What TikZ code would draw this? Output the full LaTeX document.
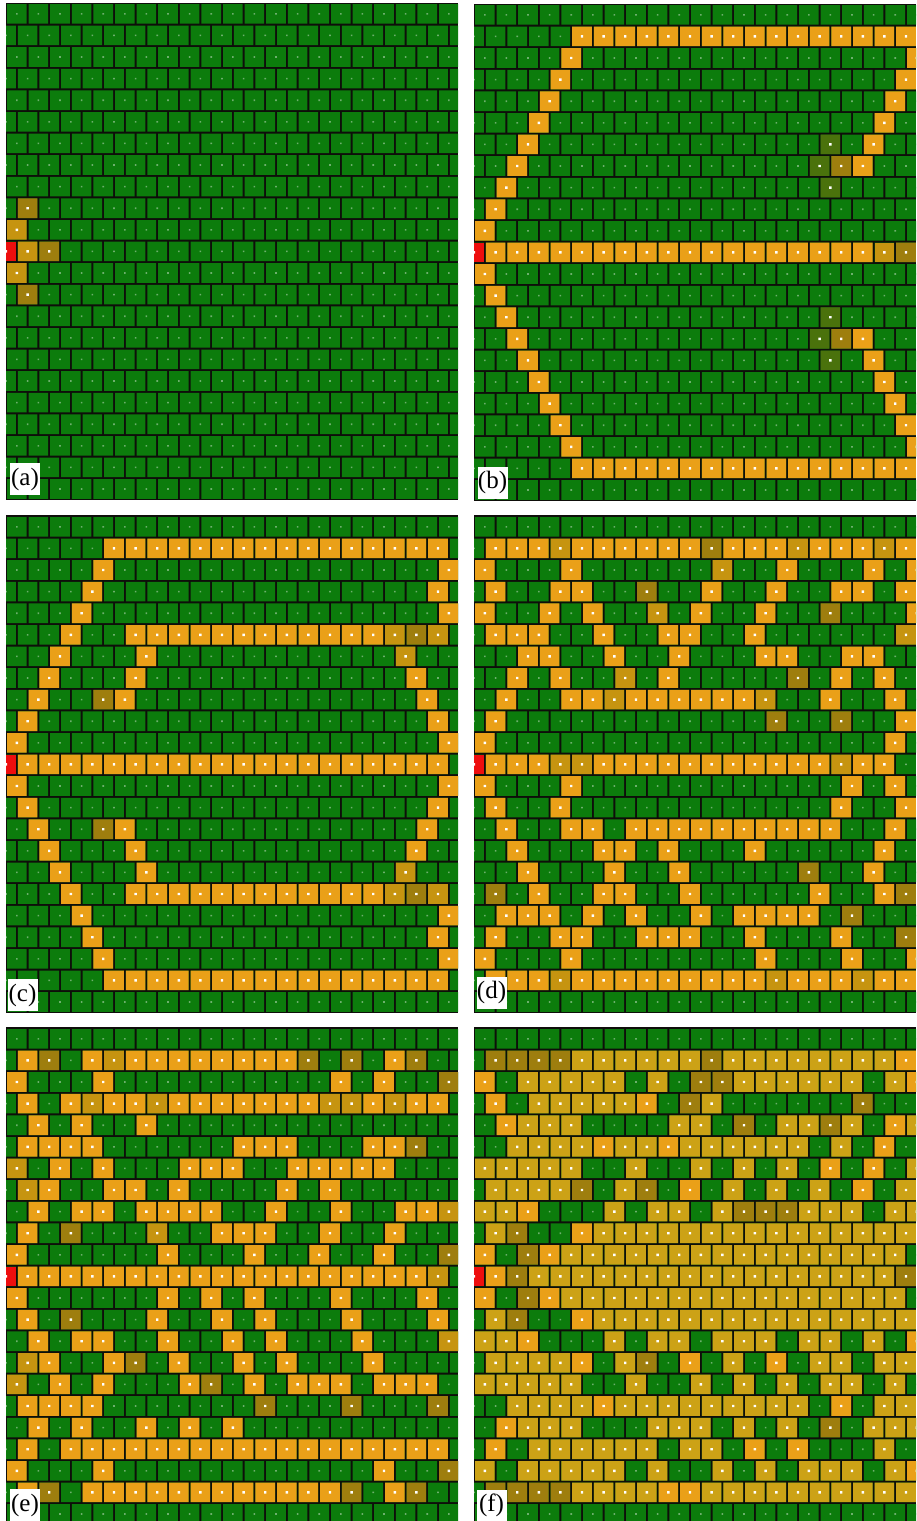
\documentclass[tikz,border=0pt]{standalone}
\usepackage{fontspec}
\setmainfont{Liberation Serif}
\definecolor{cG}{RGB}{12,124,12}
\definecolor{cO}{RGB}{234,160,24}
\definecolor{cY}{RGB}{198,148,16}
\definecolor{cD}{RGB}{158,126,14}
\definecolor{cH}{RGB}{74,114,12}
\definecolor{cK}{RGB}{204,162,22}
\definecolor{cR}{RGB}{238,14,14}
\definecolor{cB}{RGB}{14,14,10}
\tikzset{
  cellG/.style={fill=cG}, cellO/.style={fill=cO}, cellY/.style={fill=cY},
  cellD/.style={fill=cD}, cellH/.style={fill=cH}, cellK/.style={fill=cK},
  cellR/.style={fill=cR},
  gdot/.style={fill=cG!60!white},
  mdot/.style={fill=white},
  panelbg/.style={fill=cB},
  panellabel/.style={fill=white, inner sep=0pt, minimum width=30pt,
    minimum height=32pt, font=\fontsize{25}{25}\selectfont},
}
\ExplSyntaxOn
\int_new:N \l_rs_col_int
\clist_map_inline:nn {O,Y,D,H,K,R,dot} { \tl_new:c {l_rs_#1_tl} }
\cs_new_protected:Npn \rs_cell:nnnnn #1#2#3#4#5
 {
   \str_if_eq:nnF {#5}{G}
    {
      \pgfmathsetmacro\rsx{#1+(#4)*21.6-mod(#3,2)*10.8}
      \pgfmathsetmacro\rsy{#2+(#3)*21.6}
      \tl_put_right:cx {l_rs_#5_tl} { (\rsx,\rsy) ~ rectangle ~ ++(19.6,19.6) ~ }
      \tl_put_right:Nx \l_rs_dot_tl { (\rsx+8.6,\rsy+8.6) ~ rectangle ~ ++(2.4,2.4) ~ }
    }
 }
\NewDocumentCommand\cellrow{mmmm}
 {
   \int_zero:N \l_rs_col_int
   \tl_map_inline:nn {#4}
    {
      \rs_cell:nnnnn {#1}{#2}{#3}{\int_use:N \l_rs_col_int}{##1}
      \int_incr:N \l_rs_col_int
    }
 }
\cs_new_protected:Npn \rs_dofill:nn #1#2 { \fill[#1] #2 ; }
\cs_generate_variant:Nn \rs_dofill:nn { nv }
\cs_new_protected:Npn \rs_flushone:nn #1#2
 {
   \tl_if_empty:cF {l_rs_#1_tl} { \rs_dofill:nv {#2} {l_rs_#1_tl} }
   \tl_clear:c {l_rs_#1_tl}
 }
\NewDocumentCommand\flushcells{}
 {
   \clist_map_inline:nn {O,Y,D,H,K,R} { \rs_flushone:nn {##1}{cell##1} }
   \rs_flushone:nn {dot}{mdot}
 }
\ExplSyntaxOff
\newcommand\mrow[4]{\cellrow{#1}{#2}{#3}{#4}\cellrow{#1}{#2}{22-#3}{#4}}
\newcommand\basegrid[2]{%
  \foreach \r in {0,...,22}{%
    \pgfmathsetmacro\by{#2+\r*21.6}%
    \pgfmathsetmacro\bo{#1-mod(\r,2)*10.8}%
    \fill[cellG] \foreach \c in {0,...,21}{(\bo+\c*21.6,\by) rectangle ++(19.6,19.6)};
    \fill[gdot] \foreach \c in {0,...,21}{(\bo+\c*21.6+9,\by+9) rectangle ++(1.6,1.6)};
  }}
\begin{document}
\begin{tikzpicture}[x=1pt,y=-1pt]
\useasboundingbox (0,0) rectangle (916,1521);
\fill[white] (0,0) rectangle (916,1521);
% ---------- (a)
\begin{scope}
\clip (6,3) rectangle (458,500);
\fill[panelbg] (6,3) rectangle (458,500);
\basegrid{7}{4}
\cellrow{7}{4}{9}{GD}
\cellrow{7}{4}{10}{Y}
\cellrow{7}{4}{11}{RYD}
\cellrow{7}{4}{12}{Y}
\cellrow{7}{4}{13}{GD}
\flushcells
\end{scope}
% ---------- (b)
\begin{scope}
\clip (474,3.5) rectangle (916,501);
\fill[panelbg] (474,3.5) rectangle (916,501);
\basegrid{475}{5}
\mrow{475}{5}{1}{GGGGG OOOOO OOOOO OOOOO OO}
\mrow{475}{5}{2}{GGGGO GGGGG GGGGG GGGGG O}
\mrow{475}{5}{3}{GGGGO GGGGG GGGGG GGGGG OG}
\mrow{475}{5}{4}{GGGOG GGGGG GGGGG GGGGO G}
\mrow{475}{5}{5}{GGGOG GGGGG GGGGG GGGGO GG}
\mrow{475}{5}{6}{GGOGG GGGGG GGGGG GHGOG G}
\mrow{475}{5}{7}{GGOGG GGGGG GGGGG GHDOG GG}
\mrow{475}{5}{8}{GOGGG GGGGG GGGGG GHGGG G}
\mrow{475}{5}{9}{GO}
\mrow{475}{5}{10}{O}
\cellrow{475}{5}{11}{ROOOO OOOOO OOOOO OOOOY DD}
\flushcells
\end{scope}
% ---------- (c)
\begin{scope}
\clip (6,515) rectangle (458,1013);
\fill[panelbg] (6,515) rectangle (458,1013);
\basegrid{7}{517}
\mrow{7}{517}{1}{GGGGG OOOOO OOOOO OOOOO OG}
\mrow{7}{517}{2}{GGGGO GGGGG GGGGG GGGGG O}
\mrow{7}{517}{3}{GGGGO GGGGG GGGGG GGGGG OG}
\mrow{7}{517}{4}{GGGOG GGGGG GGGGG GGGGG O}
\mrow{7}{517}{5}{GGGOG GOOOO OOOOO OOOYD YG}
\mrow{7}{517}{6}{GGOGG GOGGG GGGGG GGGYG G}
\mrow{7}{517}{7}{GGOGG GOGGG GGGGG GGGGO GG}
\mrow{7}{517}{8}{GOGGD OGGGG GGGGG GGGGO G}
\mrow{7}{517}{9}{GOGGG GGGGG GGGGG GGGGG OG}
\mrow{7}{517}{10}{OGGGG GGGGG GGGGG GGGGG O}
\cellrow{7}{517}{11}{ROOOO OOOOO OOOOO OOOOO OG}
\flushcells
\end{scope}
% ---------- (d)
\begin{scope}
\clip (474,515) rectangle (916,1013);
\fill[panelbg] (474,515) rectangle (916,1013);
\basegrid{475}{517}
\cellrow{475}{517}{1}{GOOOY OOOOO ODOOO YOOOY OO}
\cellrow{475}{517}{2}{OGGGO GGGGG GYGGO GGGOG O}
\cellrow{475}{517}{3}{GOGGO OGGDG GOGGO GGOOG OG}
\cellrow{475}{517}{4}{OGGOG OGGYG OGGOG GDGGG O}
\cellrow{475}{517}{5}{GOOOG GOGGO OGGOG GGGGG YG}
\cellrow{475}{517}{6}{GGOOG GOGGO GGGOO GGOOG G}
\cellrow{475}{517}{7}{GGOGO GGYGO GGGGG DGOGO GG}
\cellrow{475}{517}{8}{GOGGO OYOOO OOOYG GOGGO G}
\cellrow{475}{517}{9}{GOGGG GGGGG GGGGD GGDGG OG}
\cellrow{475}{517}{10}{OGGGG GGGGG GGGGG GGGGO G}
\cellrow{475}{517}{11}{ROOOY YOOOO OOOOO OOYOO GG}
\cellrow{475}{517}{12}{OGGGO GGGGG GGGGG GGOGO G}
\cellrow{475}{517}{13}{GOGGO GGGGG GGGGG GGOGG OG}
\cellrow{475}{517}{14}{GOGGO OGOOO OOOOO OOGGO G}
\cellrow{475}{517}{15}{GGOGG GOOGO GGGOG GGGGO GG}
\cellrow{475}{517}{16}{GGOGG GOGGO GGGGG DGGOG G}
\cellrow{475}{517}{17}{GDGOG GOOGG OGGGG GOGGO D}
\cellrow{475}{517}{18}{GOOOG OGOGG OGOOO OGDGG G}
\cellrow{475}{517}{19}{GOGGO OGGOO OGGOG GGOGG D}
\cellrow{475}{517}{20}{OGGGO GGGGG GGGOG GGOGG O}
\cellrow{475}{517}{21}{GOOOY OOOOO OOOOY OOOYO OO}
\flushcells
\end{scope}
% ---------- (e)
\begin{scope}
\clip (6,1027) rectangle (458,1521);
\fill[panelbg] (6,1027) rectangle (458,1521);
\basegrid{7}{1029}
\cellrow{7}{1029}{1}{GODGO YOOOO OOOOD GDGOD GG}
\cellrow{7}{1029}{2}{OGGGO GGGGG GGGGG OGOGG D}
\cellrow{7}{1029}{3}{GOGOY OOYOO OOOOO YYOYO OG}
\cellrow{7}{1029}{4}{GOGOG GO}
\cellrow{7}{1029}{5}{GOOOO GGGGG GOOOG GGOOD G}
\cellrow{7}{1029}{6}{YGOGO GGGOO OGGOO OOOGG G}
\cellrow{7}{1029}{7}{GYOGG OOGOG GGGOG OGGGG GG}
\cellrow{7}{1029}{8}{GOGOO GOOOO GGOGG OGGOO Y}
\cellrow{7}{1029}{9}{GOGDG GGYGG OOOGG OGGOG GG}
\cellrow{7}{1029}{10}{OGGGG GGOGG GOGGO GGOGG D}
\cellrow{7}{1029}{11}{ROOOO OOOOO OOOOO OOOOO YG}
\cellrow{7}{1029}{12}{OGGGG GGOGO GOGGG OGGGO G}
\cellrow{7}{1029}{13}{GOGDG GGOGG OGOGG GOGGG OG}
\cellrow{7}{1029}{14}{GOGOO GGOGG OGOGG GOGGG Y}
\cellrow{7}{1029}{15}{GYOGG ODGOG GOGOG GGOGG GG}
\cellrow{7}{1029}{16}{YGOGO GGGOD GOGOO OGOOO G}
\cellrow{7}{1029}{17}{GOOOO GGGGG GGDGG GDGGG DG}
\cellrow{7}{1029}{18}{GOGOG GOGOG O}
\cellrow{7}{1029}{19}{GOGOO OOOOO OOOOO OOOOO OG}
\cellrow{7}{1029}{20}{OGGGO GGGGG GGGGG GGOGG D}
\cellrow{7}{1029}{21}{GODGO OOOOO OOOOO ODGOD GG}
\flushcells
\end{scope}
% ---------- (f)
\begin{scope}
\clip (474,1027) rectangle (916,1521);
\fill[panelbg] (474,1027) rectangle (916,1521);
\basegrid{475}{1029}
\cellrow{475}{1029}{1}{GDDDD KKKKK KDKKK KKKKK OK}
\cellrow{475}{1029}{2}{OGKKK KKGKG DDKKK KKKGK O}
\cellrow{475}{1029}{3}{GOGKK KKKOG DKGGG GGGDG GG}
\cellrow{475}{1029}{4}{GOKKK GGGGK KGDGK KDKGO K}
\cellrow{475}{1029}{5}{GGKKK KOKKO KKKKK KGKGO GG}
\cellrow{475}{1029}{6}{KKKKK GGKGG KGKGK GOGOG K}
\cellrow{475}{1029}{7}{GKKKK DGKDG OGKGK GKGOG KK}
\cellrow{475}{1029}{8}{KKOGG GKGKK GKDDD KKKGK K}
\cellrow{475}{1029}{9}{GKDGG OKKKK KKKKK KKKKK KK}
\cellrow{475}{1029}{10}{OGDOK KKKKK KKKKK KKKKK G}
\cellrow{475}{1029}{11}{RODKK KKKKK KKKKK KKKKK DK}
\cellrow{475}{1029}{12}{OGDOK KKKKK KKKKK KKKKK G}
\cellrow{475}{1029}{13}{GKDGG OKKKK KKKKK KKKKK KO}
\cellrow{475}{1029}{14}{KKOGG GKGKK GKKKG KKGKG O}
\cellrow{475}{1029}{15}{GKKKK OGKDG OGKGO GKKGK KG}
\cellrow{475}{1029}{16}{KKKKK GGKGG KGKGK GKKGK G}
\cellrow{475}{1029}{17}{GGKKK KOKKK KKKKK KGOGK KG}
\cellrow{475}{1029}{18}{GOKKK GGGKK KGKGK GDGKK K}
\cellrow{475}{1029}{19}{GOGKK KKKKG KKGOG OGGGK GG}
\cellrow{475}{1029}{20}{KGKKK KKGKG GKGKG KKKGK O}
\cellrow{475}{1029}{21}{GDDDD KKKKO OKKKK KKKKK KK}
\flushcells
\end{scope}
% ---------- labels
\node[panellabel] (la) at (25,479) {(a)};
\node[panellabel] (lb) at (492.5,482.5) {(b)};
\node[panellabel] (lc) at (22.5,995) {(c)};
\node[panellabel] (ld) at (491.5,992.5) {(d)};
\node[panellabel] (le) at (25,1505) {(e)};
\node[panellabel] (lf) at (491.5,1505.5) {(f)};
\end{tikzpicture}
\end{document}
